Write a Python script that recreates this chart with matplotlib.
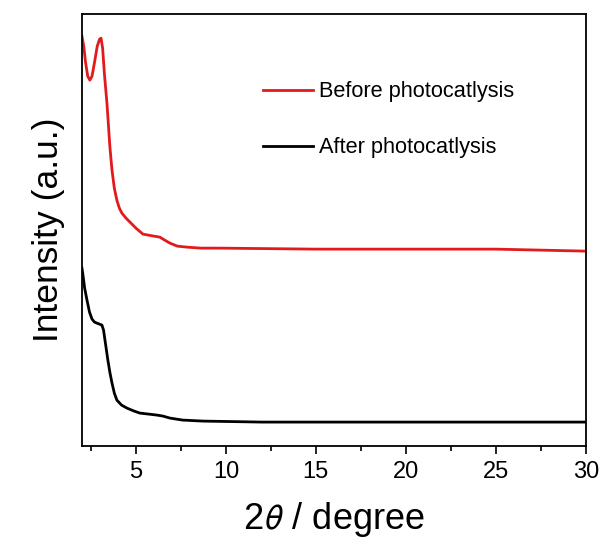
import numpy as np
import matplotlib
matplotlib.use("Agg")
import matplotlib.pyplot as plt
from matplotlib.ticker import MultipleLocator, NullLocator

plt.rcParams['font.family'] = ['Liberation Sans', 'DejaVu Sans']
plt.rcParams['mathtext.fontset'] = 'stixsans'

# (arbitrary intensity units)
two_theta_before = [2.0, 2.1, 2.2, 2.32, 2.44, 2.56, 2.7, 2.85, 2.98, 3.06, 3.15, 3.25,
                    3.39, 3.55, 3.67, 3.8, 3.94, 4.08, 4.22, 4.45, 4.67, 5.0, 5.39,
                    6.0, 6.33, 6.6, 6.89, 7.3, 7.83, 8.6, 9.67, 15.0, 20.0, 25.0, 30.0]
int_before = [410, 400, 384, 370, 366, 370, 384, 400, 407, 408, 398, 372,
              343, 300, 276, 258, 246, 238, 233, 228, 224, 218, 212,
              210, 209, 206, 203, 200, 199, 198, 198, 197, 197, 197, 195]

two_theta_after = [2.0, 2.05, 2.15, 2.28, 2.42, 2.56, 2.7, 2.83, 2.97, 3.11, 3.2, 3.28,
                   3.36, 3.44, 3.55, 3.67, 3.8, 3.94, 4.2, 4.5, 4.9,
                   5.22, 5.7, 6.17, 6.5, 6.89, 7.6, 8.72, 12.0, 20.0, 30.0]
int_after = [178, 172, 158, 146, 134, 127, 124, 123, 122, 121, 116, 106,
             96, 86, 74, 63, 53, 46, 41, 38, 35,
             33, 32, 31, 30, 28, 26, 25, 24, 24, 24]

fig = plt.figure(figsize=(6.07, 5.46), dpi=100)
ax = fig.add_axes([0.135, 0.183, 0.83, 0.791])

ax.plot(two_theta_before, int_before, color='#e31a1c', lw=2, label='Before photocatlysis')
ax.plot(two_theta_after, int_after, color='black', lw=2, label='After photocatlysis')

ax.set_xlim(2, 30)
ax.set_ylim(0, 432)
ax.xaxis.set_major_locator(MultipleLocator(5))
ax.xaxis.set_minor_locator(MultipleLocator(2.5))
ax.yaxis.set_major_locator(NullLocator())
ax.tick_params(axis='x', which='major', direction='out', length=6, width=1.2,
               labelsize=17, pad=5)
ax.tick_params(axis='x', which='minor', direction='out', length=3.5, width=1.2)
for s in ax.spines.values():
    s.set_linewidth(1.3)

ax.set_xlabel(r'2$\theta$ / degree', fontsize=26, labelpad=12)
ax.set_ylabel('Intensity (a.u.)', fontsize=25.5, labelpad=12)

ax.legend(loc='upper left', bbox_to_anchor=(0.32, 0.89), frameon=False, fontsize=15.7,
          handlelength=2.3, handletextpad=0.3, labelspacing=1.6)

fig.savefig('out.png', dpi=100)
